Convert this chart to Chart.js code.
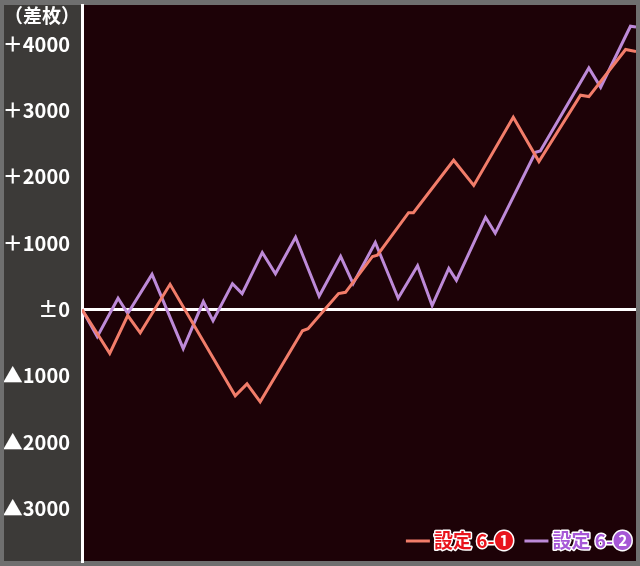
<!DOCTYPE html>
<html>
<head>
<meta charset="utf-8">
<script src="https://cdn.jsdelivr.net/npm/chart.js@4"></script>
<style>
    html, body { margin: 0; padding: 0; background: #6f6f6f; }
    #wrap { width: 640px; height: 566px; }
</style>
</head>
<body>
<div id="wrap"><canvas id="chart-diff"></canvas></div>
<script>
// ゲーム数と差枚
const games1 = [0, 400, 660, 840, 1270, 2210, 2380, 2570, 3180, 3260, 3700, 3800, 4190, 4260, 4710, 4780, 5360, 5650, 6220, 6590, 7190, 7310, 7840, 7990];
const diff1 = [0, -660, -90, -350, 380, -1300, -1120, -1390, -320, -290, 240, 260, 800, 820, 1460, 1460, 2250, 1870, 2900, 2230, 3230, 3210, 3920, 3890];

const games2 = [0, 220, 520, 660, 1010, 1460, 1750, 1890, 2170, 2310, 2600, 2790, 3080, 3420, 3730, 3910, 4230, 4560, 4840, 5050, 5290, 5400, 5820, 5960, 6540, 6610, 7310, 7480, 7910, 7990];
const diff2 = [0, -410, 170, -60, 530, -590, 120, -170, 390, 240, 860, 540, 1090, 200, 800, 390, 1010, 170, 660, 60, 620, 440, 1390, 1150, 2370, 2390, 3640, 3350, 4270, 4260];

const yTicks = [-3000, -2000, -1000, 0, 1000, 2000, 3000, 4000];

const labels = ['設定 6-❶', '設定 6-❷'];
const lineColors = ['#f27d6a', '#bd8ad8'];
const textColors = ['#e8141c', '#a657d6'];

const yMin = -3790;
const yMax = 4590;

const toPoints = (xs, ys) => xs.map((x, i) => ({x: x, y: ys[i]}));

const bgPlugin = {
    id: 'bg',
    beforeDraw(chart) {
        const {ctx, chartArea} = chart;
        ctx.save();
        ctx.fillStyle = '#6f6f6f';
        ctx.fillRect(0, 0, chart.width, chart.height);
        ctx.fillStyle = '#3c3a38';
        ctx.fillRect(4, 5, chartArea.left - 4, chartArea.bottom - 5);
        ctx.fillStyle = '#1d0207';
        ctx.fillRect(chartArea.left, chartArea.top, chartArea.right - chartArea.left, chartArea.bottom - chartArea.top);
        ctx.restore();
    },
    afterDraw(chart) {
        const {ctx, chartArea} = chart;
        ctx.save();
        // 単位
        ctx.fillStyle = '#ffffff';
        ctx.font = 'bold 19px "Noto Sans CJK JP", sans-serif';
        ctx.textAlign = 'center';
        ctx.textBaseline = 'middle';
        ctx.fillText('（差枚）', 42, 16);

        // 凡例（右下）
        ctx.font = 'bold 19px "Noto Sans CJK JP", sans-serif';
        ctx.textAlign = 'left';
        const y = 541;
        const widths = chart.data.datasets.map(ds => ctx.measureText(ds.label).width);
        let total = 0;
        widths.forEach(w => { total += 28 + w; });
        total += 11 * (widths.length - 1);
        let x = chartArea.right - 4 - total;
        chart.data.datasets.forEach((ds, i) => {
            ctx.strokeStyle = ds.borderColor;
            ctx.lineWidth = 3;
            ctx.beginPath();
            ctx.moveTo(x, y);
            ctx.lineTo(x + 24, y);
            ctx.stroke();
            x += 28;
            ctx.lineJoin = 'round';
            ctx.strokeStyle = '#ffffff';
            ctx.lineWidth = 3;
            ctx.strokeText(ds.label, x, y);
            ctx.fillStyle = textColors[i];
            ctx.fillText(ds.label, x, y);
            x += widths[i] + 11;
        });
        ctx.restore();
    }
};

new Chart(document.getElementById('chart-diff'), {
    type: 'line',
    data: {
        datasets: [
            {
                label: labels[0],
                data: toPoints(games1, diff1),
                borderColor: lineColors[0],
                borderWidth: 3,
                pointRadius: 0,
                tension: 0
            },
            {
                label: labels[1],
                data: toPoints(games2, diff2),
                borderColor: lineColors[1],
                borderWidth: 3,
                pointRadius: 0,
                tension: 0
            }
        ]
    },
    options: {
        responsive: true,
        maintainAspectRatio: false,
        animation: false,
        layout: {
            padding: {left: 4, top: 5, right: 4, bottom: 5}
        },
        plugins: {
            legend: {display: false},
            tooltip: {enabled: false}
        },
        scales: {
            x: {
                type: 'linear',
                min: 0,
                max: 7990,
                display: false
            },
            y: {
                min: yMin,
                max: yMax,
                afterFit: (scale) => {
                    scale.width = 78;
                    scale.paddingTop = 0;
                    scale.paddingBottom = 0;
                },
                afterBuildTicks: (scale) => { scale.ticks = yTicks.map(v => ({value: v})); },
                ticks: {
                    padding: 12,
                    color: '#ffffff',
                    font: {family: '"Noto Sans CJK JP", sans-serif', size: 20, weight: 'bold'},
                    callback: (v) => v > 0 ? '＋' + v : (v < 0 ? '▲' + (-v) : '±0')
                },
                grid: {
                    drawTicks: false,
                    lineWidth: 3,
                    color: (c) => c.tick && c.tick.value === 0 ? '#ffffff' : 'rgba(0,0,0,0)'
                },
                border: {
                    display: true,
                    color: '#ffffff',
                    width: 3
                }
            }
        }
    },
    plugins: [bgPlugin]
});
</script>
</body>
</html>
